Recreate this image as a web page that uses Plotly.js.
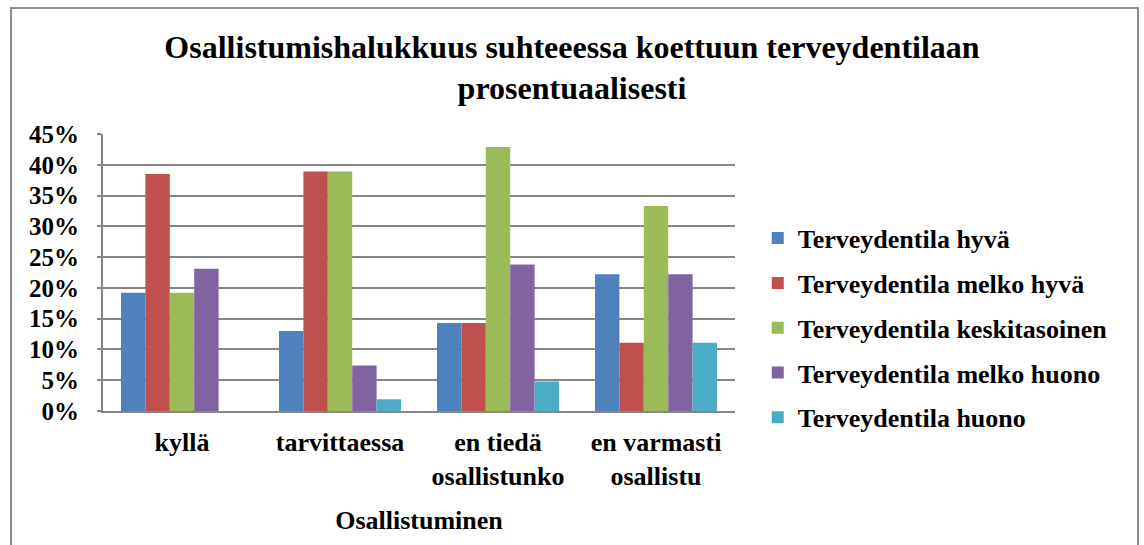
<!DOCTYPE html>
<html>
<head>
<meta charset="utf-8">
<script src="https://cdn.plot.ly/plotly-3.0.1.min.js"></script>
<style>
html,body{margin:0;padding:0;background:#fff;}
#wrap{position:relative;width:1144px;height:545px;overflow:hidden;}
#chart{width:1144px;height:545px;}
#frame{position:absolute;left:10px;top:7px;width:1125px;height:560px;border:2px solid #8c8c8c;pointer-events:none;}
</style>
</head>
<body>
<div id="wrap"><div id="chart"></div><div id="frame"></div></div>
<script>
const categories = ['kyllä', 'tarvittaessa', 'en tiedä<br>osallistunko', 'en varmasti<br>osallistu'];
const seriesNames = ['Terveydentila hyvä', 'Terveydentila melko hyvä', 'Terveydentila keskitasoinen', 'Terveydentila melko huono', 'Terveydentila huono'];
const hyva = [0.192, 0.130, 0.143, 0.222];
const melkoHyva = [0.385, 0.389, 0.143, 0.111];
const keskitasoinen = [0.192, 0.389, 0.429, 0.333];
const melkoHuono = [0.231, 0.074, 0.238, 0.222];
const huono = [0.0, 0.019, 0.048, 0.111];
const yTickVals = [0, 0.05, 0.10, 0.15, 0.20, 0.25, 0.30, 0.35, 0.40, 0.45];
const yTickText = ['0%', '5%', '10%', '15%', '20%', '25%', '30%', '35%', '40%', '45%'];

const colors = ['#4F81BD', '#C0504D', '#9BBB59', '#8064A2', '#4BACC6'];
const values = [hyva, melkoHyva, keskitasoinen, melkoHuono, huono];
const font = '"Liberation Serif", "Times New Roman", serif';

const traces = values.map((v, i) => ({
  type: 'bar',
  name: seriesNames[i],
  x: categories,
  y: v,
  legendgroup: 'g' + i,
  marker: {color: colors[i], line: {width: 0}},
  hoverinfo: 'skip'
}));

const layout = {
  width: 1144, height: 545,
  margin: {l: 103, r: 409, t: 134, b: 134},
  paper_bgcolor: '#fff', plot_bgcolor: '#fff',
  font: {family: font, size: 26, color: '#000', weight: 'bold'},
  barmode: 'group',
  bargap: 0.228,
  bargroupgap: 0,
  title: {
    text: '<b>Osallistumishalukkuus suhteeessa koettuun terveydentilaan<br>prosentuaalisesti</b>',
    font: {family: font, size: 32, color: '#000'},
    x: 0.5, xref: 'container', xanchor: 'center',
    y: 0.894, yref: 'container', yanchor: 'top'
  },
  xaxis: {
    type: 'category',
    showgrid: false,
    showline: true, linecolor: '#868686', linewidth: 2,
    ticks: 'outside', ticklen: 7, tickcolor: 'rgba(0,0,0,0)',
    tickfont: {family: font, size: 26, color: '#000', weight: 'bold'},
    title: {text: '<b>Osallistuminen</b>', font: {family: font, size: 26, color: '#000'}, standoff: 21},
    fixedrange: true
  },
  yaxis: {
    range: [0, 0.45],
    tickvals: yTickVals, ticktext: yTickText,
    showgrid: true, gridcolor: '#868686', gridwidth: 2,
    zeroline: false,
    showline: true, linecolor: '#868686', linewidth: 2,
    ticks: 'outside', ticklen: 4, tickcolor: '#868686', tickwidth: 2,
    ticklabelstandoff: 13,
    tickfont: {family: font, size: 25, color: '#000', weight: 'bold'},
    fixedrange: true
  },
  legend: {
    x: 1.036, xanchor: 'left', y: 0.299, yanchor: 'middle',
    font: {family: font, size: 26, color: '#000', weight: 'bold'},
    traceorder: 'grouped', tracegroupgap: 8,
    bgcolor: 'rgba(0,0,0,0)'
  },
  showlegend: true
};

Plotly.newPlot('chart', traces, layout, {displayModeBar: false, staticPlot: true});
</script>
</body>
</html>
